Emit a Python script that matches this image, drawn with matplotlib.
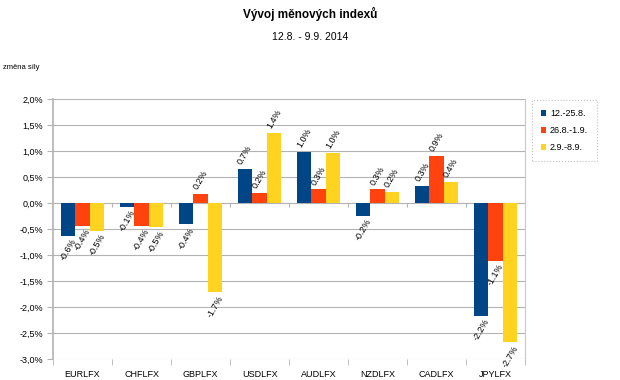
import numpy as np
import matplotlib
matplotlib.use('Agg')
import matplotlib.pyplot as plt

plt.rcParams['font.family'] = ['Liberation Sans', 'DejaVu Sans']

# data (% change of currency index strength)
categories = ['EURLFX', 'CHFLFX', 'GBPLFX', 'USDLFX', 'AUDLFX', 'NZDLFX', 'CADLFX', 'JPYLFX']
series_names = ['12.-25.8.', '26.8.-1.9.', '2.9.-8.9.']
period1 = [-0.63, -0.08, -0.41, 0.65, 0.98, -0.25, 0.33, -2.17]
period2 = [-0.44, -0.44, 0.17, 0.20, 0.26, 0.26, 0.91, -1.11]
period3 = [-0.53, -0.47, -1.72, 1.35, 0.96, 0.21, 0.40, -2.68]
yticks = [2.0, 1.5, 1.0, 0.5, 0.0, -0.5, -1.0, -1.5, -2.0, -2.5, -3.0]

colors = ['#004586', '#ff420e', '#ffd320']


def fmt_pct(v):
    return ('%.1f%%' % v).replace('.', ',')


def fmt_lbl(v):
    return '%.1f%%' % round(v, 1)


fig = plt.figure(figsize=(6.2, 3.8), dpi=100)
ax = fig.add_axes([0.0855, 0.0553, 0.7615, 0.6842])

x = np.arange(len(categories))
w = 0.245
for i, vals in enumerate([period1, period2, period3]):
    xs = x + (i - 1) * w
    ax.bar(xs, vals, width=w, color=colors[i], label=series_names[i], zorder=3)
    for xi, v in zip(xs, vals):
        if v >= 0:
            ax.annotate(fmt_lbl(v), (xi, v), xytext=(0, 2), textcoords='offset points',
                        ha='center', va='bottom', rotation=60, fontsize=6.5, zorder=4)
        else:
            ax.annotate(fmt_lbl(v), (xi, v), xytext=(0, -1), textcoords='offset points',
                        ha='center', va='top', rotation=60, fontsize=6.5, zorder=4)

ax.set_xlim(-0.5, len(categories) - 0.5)
ax.set_ylim(-3.0, 2.0)
ax.set_yticks(yticks)
ax.set_yticklabels([fmt_pct(t) for t in yticks], fontsize=6.5)
ax.yaxis.grid(True, color='#b3b3b3', linewidth=0.8, zorder=0)

ax.set_xticks(x)
ax.set_xticklabels(categories, fontsize=6.5)
ax.set_xticks(np.arange(-0.5, len(categories)), minor=True)
ax.tick_params(axis='x', which='major', length=0, pad=8)
ax.tick_params(axis='x', which='minor', length=4, color='#b3b3b3')
ax.tick_params(axis='y', length=4, color='#b3b3b3', pad=3)
# small ticks under the zero line
ax.vlines(np.arange(0.5, len(categories) - 0.5), -0.08, 0, color='#b3b3b3', linewidth=0.8, zorder=2)

for s in ['top', 'bottom']:
    ax.spines[s].set_visible(False)
ax.spines['left'].set_color('#b3b3b3')
ax.spines['left'].set_linewidth(1.2)
ax.spines['right'].set_color('#c8c8c8')

fig.text(0.5, 0.963, 'Vývoj měnových indexů', ha='center', va='center', fontsize=8.5, fontweight='bold')
fig.text(0.5, 0.903, '12.8. - 9.9. 2014', ha='center', va='center', fontsize=7.5)
fig.text(0.005, 0.822, 'změna síly', ha='left', va='center', fontsize=5.5)

leg = fig.legend(loc='upper left', bbox_to_anchor=(0.858, 0.737), borderaxespad=0,
                 fontsize=6.5, handlelength=0.6, handleheight=0.6, handletextpad=0.4,
                 labelspacing=0.9, borderpad=1.0, fancybox=False)
leg.get_frame().set_edgecolor('#b3b3b3')
leg.get_frame().set_linestyle(':')
leg.get_frame().set_linewidth(0.8)

fig.savefig('out.png', dpi=100)
